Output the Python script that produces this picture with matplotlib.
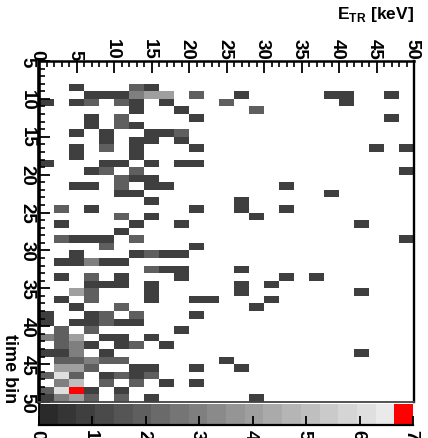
import numpy as np
import matplotlib
matplotlib.use("Agg")
import matplotlib.pyplot as plt
from matplotlib.colors import ListedColormap
from matplotlib.transforms import ScaledTranslation

plt.rcParams['font.family'] = ['Liberation Sans', 'DejaVu Sans']
plt.rcParams['font.weight'] = 'bold'
plt.rcParams['ytick.alignment'] = 'center'
plt.rcParams['mathtext.fontset'] = 'custom'
plt.rcParams['mathtext.bf'] = 'Liberation Sans:bold'
plt.rcParams['mathtext.rm'] = 'Liberation Sans:bold'

# one row per time bin (5-6 ... 49-50), one column per 2 keV energy bin
counts = [
    [0,0,0,0,0,0,0,0,0,0,0,0,0,0,0,0,0,0,0,0,0,0,0,0,0],
    [0,0,0,0,0,0,0,0,0,0,0,0,0,0,0,0,0,0,0,0,0,0,0,0,0],
    [0,0,0,0,0,0,0,0,0,0,0,0,0,0,0,0,0,0,0,0,0,0,0,0,0],
    [0,0,1,0,0,0,2,1,0,0,0,0,0,0,0,0,0,0,0,0,0,0,0,0,0],
    [0,0,0,1,1,1,3,4,4,0,2,0,0,1,0,0,0,0,0,1,1,0,0,1,0],
    [1,0,1,2,0,2,1,0,1,0,0,0,2,0,0,0,0,0,0,0,1,0,0,0,0],
    [0,0,0,0,0,0,1,0,0,1,0,0,0,0,2,0,0,0,0,0,0,0,0,0,0],
    [0,0,0,1,0,2,0,0,0,0,1,0,0,0,0,0,0,0,0,0,0,0,0,1,0],
    [0,0,0,1,0,2,1,0,0,0,0,0,0,0,0,0,0,0,0,0,0,0,0,0,0],
    [0,0,1,0,1,0,0,1,1,2,0,0,0,0,0,0,0,0,0,0,0,0,0,0,0],
    [0,0,0,0,1,0,1,1,0,1,0,0,0,0,0,0,0,0,0,0,0,0,0,0,0],
    [0,0,1,0,2,0,1,0,0,0,1,0,0,0,0,0,0,0,0,0,0,0,1,0,1],
    [0,0,1,0,0,0,1,0,0,0,0,0,0,0,0,0,0,0,0,0,0,0,0,0,0],
    [1,0,0,0,1,1,0,1,0,1,1,0,0,0,0,0,0,0,0,0,0,0,0,0,0],
    [0,0,0,1,2,0,2,0,0,0,0,0,0,0,0,0,0,0,0,0,0,0,0,0,1],
    [0,0,0,0,0,2,1,1,0,0,0,0,0,0,0,0,0,0,0,0,0,0,0,0,0],
    [0,0,1,1,0,2,0,1,1,0,0,0,0,0,0,0,1,0,0,0,0,0,0,0,0],
    [0,0,0,0,0,1,1,0,0,0,0,0,0,0,0,0,0,0,0,1,0,0,0,0,0],
    [0,0,0,0,0,0,0,1,0,0,0,0,0,1,0,0,0,0,0,0,0,0,0,0,0],
    [0,2,0,1,0,0,0,0,0,0,1,0,0,1,0,0,1,0,0,0,0,0,0,0,0],
    [0,0,0,0,0,2,0,1,0,0,0,0,0,0,1,0,0,0,0,0,0,0,0,0,0],
    [0,1,0,0,0,0,1,0,0,1,0,0,0,0,0,0,0,0,0,0,0,1,0,0,0],
    [0,0,0,0,0,1,0,0,0,0,0,0,0,0,0,0,0,0,0,0,0,0,0,0,0],
    [0,2,1,1,1,0,2,0,0,0,0,0,0,0,0,0,0,0,0,0,0,0,0,0,1],
    [0,0,0,0,2,0,0,0,0,0,1,0,0,0,0,0,0,0,0,0,0,0,0,0,0],
    [0,0,1,0,0,0,1,2,1,1,0,0,0,0,0,0,0,0,0,0,0,0,0,0,0],
    [0,1,1,3,1,1,0,0,0,0,0,0,0,0,0,0,0,0,0,0,0,0,0,0,0],
    [0,0,0,0,0,0,0,2,1,1,0,0,0,1,0,0,0,0,0,0,0,0,0,0,0],
    [0,1,0,2,0,1,0,0,0,1,0,0,0,0,0,0,1,0,1,0,0,0,0,0,0],
    [0,0,0,1,1,1,0,1,0,0,0,0,0,1,0,1,0,0,0,0,0,0,0,0,0],
    [0,0,4,2,0,0,0,1,0,0,0,0,0,1,0,0,0,0,0,0,0,1,0,0,0],
    [0,1,0,2,0,0,0,1,0,0,1,1,0,0,0,1,0,0,0,0,0,0,0,0,0],
    [0,0,1,0,0,2,0,0,0,0,0,0,0,0,1,0,0,0,0,0,0,0,0,0,0],
    [1,0,0,1,2,0,2,0,0,0,1,0,0,0,0,0,0,0,0,0,0,0,0,0,0],
    [1,0,1,1,2,1,1,0,0,0,0,0,0,0,0,0,0,0,0,0,0,0,0,0,0],
    [0,2,0,2,0,0,0,0,0,1,0,0,0,0,0,0,0,0,0,0,0,0,0,0,0],
    [3,2,4,0,1,1,0,1,0,0,0,0,0,0,0,0,0,0,0,0,0,0,0,0,0],
    [0,2,3,1,0,1,2,0,1,0,0,0,0,0,0,0,0,0,0,0,0,0,0,0,0],
    [1,1,3,0,1,0,0,0,0,0,0,0,0,0,0,0,0,0,0,0,0,1,0,0,0],
    [0,2,2,3,2,2,0,0,0,0,0,0,1,0,0,0,0,0,0,0,0,0,0,0,0],
    [0,4,4,2,0,0,1,1,0,0,1,0,0,1,0,0,0,0,0,0,0,0,0,0,0],
    [2,6,2,0,1,2,1,2,0,0,0,0,0,0,0,0,0,0,0,0,0,0,0,0,0],
    [0,3,5,0,2,0,2,0,1,0,1,0,0,0,0,0,0,0,0,0,0,0,0,0,0],
    [2,6,7,1,0,1,0,0,0,0,0,0,0,0,0,0,0,0,0,0,0,0,0,0,0],
    [1,3,4,2,0,2,0,1,0,0,0,0,0,0,1,0,0,0,0,0,0,0,0,0,0],
]
energy_ticks = [0, 5, 10, 15, 20, 25, 30, 35, 40, 45, 50]
time_ticks = [5, 10, 15, 20, 25, 30, 35, 40, 45, 50]
bar_ticks = [0, 1, 2, 3, 4, 5, 6, 7]

# 19 grey steps then red for the top of the scale
greys = list(np.linspace(0x2a, 0xea, 19) / 255)
cmap = ListedColormap([(g, g, g) for g in greys] + ['#ff0000'])

W, H = 428, 439
fig = plt.figure(figsize=(W / 100, H / 100), dpi=100)
ax = fig.add_axes([39 / W, 1 - 403 / H, 375 / W, 341 / H])

data = np.array(counts, dtype=float)
data[data == 0] = np.nan
ax.pcolormesh(np.arange(0, 51, 2), np.arange(5, 51), data, cmap=cmap, vmin=0, vmax=7)
ax.set_xlim(0, 50)
ax.set_ylim(50, 5)

ax.xaxis.tick_top()
ax.set_xticks(energy_ticks)
ax.set_xticks(np.arange(0, 51), minor=True)
ax.set_yticks(time_ticks)
ax.set_yticks(np.arange(5, 51), minor=True)
ax.tick_params(axis='x', which='major', direction='in', length=8.5, width=1.3, pad=1.5, labelsize=13.5, labelrotation=-90)
ax.tick_params(axis='y', which='major', direction='in', length=8, width=1.3, pad=2.5, labelsize=13.5, labelrotation=-90)
ax.tick_params(which='minor', direction='in', length=4.5, width=1.2)
ax.tick_params(axis='x', which='minor', top=True, bottom=False)
ax.spines['left'].set_linewidth(2.6)
ax.spines['top'].set_linewidth(1.8)
ax.spines['right'].set_linewidth(1.7)
ax.spines['bottom'].set_linewidth(1.3)
ax.spines['bottom'].set_color('#444444')

# colour scale strip under the map
cax = fig.add_axes([39 / W, 1 - 426 / H, 374 / W, 21 / H])
cax.pcolormesh(np.linspace(0, 7, 21), [0, 1], (np.arange(20) + 0.5).reshape(1, -1) * 0.35,
               cmap=cmap, vmin=0, vmax=7)
cax.set_xlim(0, 7)
cax.set_ylim(0, 1)
cax.set_yticks([])
cax.set_xticks(bar_ticks)
cax.tick_params(axis='x', direction='in', length=6.5, width=1.3, pad=3, labelsize=13.5, labelrotation=-90, top=False)
cax.spines['top'].set_visible(False)
cax.spines['right'].set_visible(False)
cax.spines['left'].set_linewidth(1.3)
cax.spines['bottom'].set_linewidth(1.6)

# rotated labels sit off centre because of the descent, nudge them back
nudge = ScaledTranslation(-2 / 100, 0, fig.dpi_scale_trans)
for lab in ax.get_xticklabels() + cax.get_xticklabels():
    lab.set_transform(lab.get_transform() + nudge)

fig.text(414 / W, 1 - 14 / H, r'E$_{\mathbf{TR}}$ [keV]', ha='right', va='center', fontsize=12.5)
fig.text(9 / W, 1 - 369 / H, 'time bin', rotation=-90, ha='center', va='center', fontsize=13)

fig.savefig('out.png', dpi=100)
